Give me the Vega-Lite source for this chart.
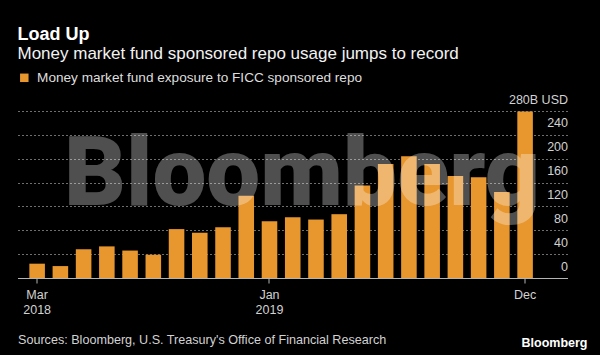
{
  "$schema": "https://vega.github.io/schema/vega-lite/v6.json",
  "width": 550,
  "height": 167,
  "autosize": {"type": "none"},
  "padding": {"left": 17.5, "top": 111, "right": 32.5, "bottom": 77},
  "background": "#000000",
  "title": {
    "text": "Load Up",
    "subtitle": "Money market fund sponsored repo usage jumps to record",
    "anchor": "start",
    "frame": "group",
    "font": "Liberation Sans",
    "fontSize": 18,
    "fontWeight": "bold",
    "color": "#ffffff",
    "subtitleFont": "Liberation Sans",
    "subtitleFontSize": 17,
    "subtitleColor": "#f2f2f2",
    "subtitlePadding": 2,
    "offset": 9.5
  },
  "layer": [
    {
      "data": {
        "values": [
          {"month": "2018-03", "value": 24},
          {"month": "2018-04", "value": 20},
          {"month": "2018-05", "value": 48},
          {"month": "2018-06", "value": 53},
          {"month": "2018-07", "value": 46},
          {"month": "2018-08", "value": 39},
          {"month": "2018-09", "value": 82},
          {"month": "2018-10", "value": 76},
          {"month": "2018-11", "value": 85},
          {"month": "2018-12", "value": 138},
          {"month": "2019-01", "value": 95},
          {"month": "2019-02", "value": 102},
          {"month": "2019-03", "value": 98},
          {"month": "2019-04", "value": 107},
          {"month": "2019-05", "value": 155},
          {"month": "2019-06", "value": 191},
          {"month": "2019-07", "value": 204},
          {"month": "2019-08", "value": 191},
          {"month": "2019-09", "value": 171},
          {"month": "2019-10", "value": 169},
          {"month": "2019-11", "value": 144},
          {"month": "2019-12", "value": 279}
        ]
      },
      "mark": {"type": "bar"},
      "encoding": {
        "x": {
          "field": "month",
          "type": "ordinal",
          "scale": {"paddingInner": 0.33, "paddingOuter": 1.22, "align": 0.255},
          "axis": {
            "values": ["2018-03", "2019-01", "2019-12"],
            "labelExpr": "datum.value == '2018-03' ? ['Mar', '2018'] : datum.value == '2019-01' ? ['Jan', '2019'] : 'Dec'",
            "labelAngle": 0,
            "labelFont": "Liberation Sans",
            "labelFontSize": 12.5,
            "labelColor": "#d2d2d2",
            "labelLineHeight": 15.6,
            "labelPadding": 5,
            "domainColor": "#b4b4b4",
            "tickColor": "#b4b4b4",
            "tickSize": 5,
            "grid": false,
            "zindex": 1,
            "title": "Sources: Bloomberg, U.S. Treasury's Office of Financial Research",
            "titleFont": "Liberation Sans",
            "titleFontSize": 12.6,
            "titleFontWeight": "normal",
            "titleColor": "#d2d2d2",
            "titleAnchor": "start",
            "titleAlign": "left",
            "titleBaseline": "alphabetic",
            "titleX": 0,
            "titleY": 65
          }
        },
        "y": {
          "field": "value",
          "type": "quantitative",
          "scale": {"domain": [0, 280], "nice": false},
          "axis": {
            "orient": "right",
            "values": [0, 40, 80, 120, 160, 200, 240, 280],
            "tickCount": 20,
            "labelExpr": "datum.value == 280 ? '280B USD' : datum.label",
            "grid": true,
            "gridColor": "#6e6e6e",
            "gridDash": [2, 2],
            "gridWidth": 1,
            "domain": false,
            "ticks": false,
            "tickSize": 0,
            "labelPadding": 0,
            "labelAlign": "right",
            "labelBaseline": "alphabetic",
            "labelOffset": -8,
            "labelFlush": false,
            "labelOverlap": false,
            "labelBound": false,
            "labelFont": "Liberation Sans",
            "labelFontSize": 12.5,
            "labelColor": "#d2d2d2",
            "title": "Bloomberg",
            "titleAngle": 0,
            "titleAlign": "right",
            "titleBaseline": "alphabetic",
            "titleX": 19.5,
            "titleY": 235.5,
            "titleFont": "Liberation Sans",
            "titleFontSize": 12.5,
            "titleFontWeight": "bold",
            "titleColor": "#ffffff"
          }
        },
        "color": {
          "datum": "Money market fund exposure to FICC sponsored repo",
          "type": "nominal",
          "scale": {"range": ["#e8962e"]},
          "legend": {
            "orient": "top",
            "title": null,
            "symbolType": "square",
            "symbolSize": 72,
            "symbolStrokeWidth": 0,
            "labelFont": "Liberation Sans",
            "labelFontSize": 13.6,
            "labelColor": "#dedede",
            "labelOffset": 6,
            "labelLimit": 600,
            "offset": 26
          }
        }
      }
    },
    {
      "data": {"values": [{"brand": "Bloomberg"}]},
      "mark": {
        "type": "text",
        "font": "Roboto",
        "fontWeight": 900,
        "fontSize": 96,
        "fill": "#ffffff",
        "opacity": 0.31,
        "align": "center",
        "baseline": "alphabetic"
      },
      "encoding": {
        "text": {"field": "brand"},
        "x": {"datum": "2019-02", "type": "ordinal", "bandPosition": 1.1},
        "y": {"datum": 122, "type": "quantitative"}
      }
    }
  ],
  "config": {
    "view": {"stroke": null}
  }
}
